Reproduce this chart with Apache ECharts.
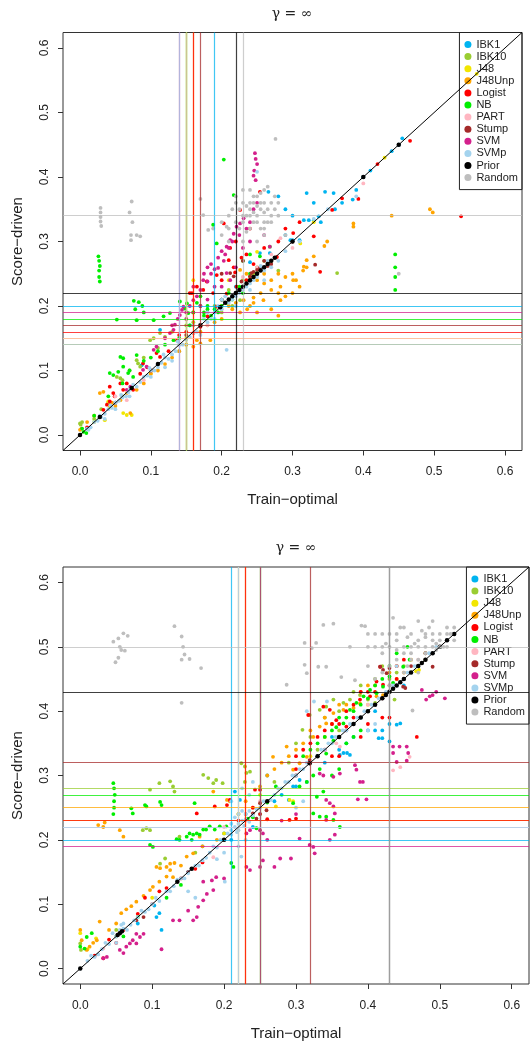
<!DOCTYPE html>
<html>
<head>
<meta charset="utf-8">
<script src="https://cdn.jsdelivr.net/npm/echarts@6/dist/echarts.min.js"></script>
<style>
  html, body { margin: 0; padding: 0; background: #fff; }
  #chart { width: 531px; height: 1042px; }
</style>
</head>
<body>
<div id="chart"></div>
<script>
// classifiers, in legend order
const names = ['IBK1', 'IBK10', 'J48', 'J48Unp', 'Logist', 'NB', 'PART', 'Stump', 'SVM', 'SVMp', 'Prior', 'Random'];
const tickValues = [0, 0.1, 0.2, 0.3, 0.4, 0.5, 0.6];
const diagLine = [[-0.024, -0.024], [0.624, 0.624]];

// per-classifier means (vertical = train-optimal, horizontal = score-driven)
const topMeanX = [0.194, 0.149, 0.151, 0.163, 0.157, 0.147, 0.154, 0.172, 0.1445, 0.138, 0.220, 0.228];
const topMeanY = [0.200, 0.142, 0.149, 0.145, 0.160, 0.183, 0.155, 0.169, 0.188, 0.138, 0.216, 0.335];
const botMeanX = [0.208, 0.249, 0.218, 0.228, 0.229, 0.252, 0.222, 0.318, 0.250, 0.224, 0.433, 0.434];
const botMeanY = [0.201, 0.285, 0.226, 0.250, 0.232, 0.272, 0.222, 0.315, 0.188, 0.224, 0.433, 0.500];

// ---- top panel points [train-optimal, score-driven]
const t_IBK1 = [[0.266,0.377],[0.32,0.375],[0.33,0.36],[0.346,0.377],[0.358,0.375],[0.297,0.302],[0.30,0.302],[0.31,0.302],[0.316,0.333],[0.323,0.333],[0.33,0.333],[0.337,0.339],[0.268,0.282],[0.254,0.282],[0.24,0.268],[0.113,0.163],[0.087,0.108],[0.29,0.31],[0.34,0.33],[0.37,0.36],[0.385,0.365],[0.39,0.38],[0.40,0.40],[0.41,0.41],[0.44,0.44],[0.45,0.45],[0.455,0.46],[0.30,0.34],[0.28,0.37],[0.29,0.35],[0.22,0.23],[0.18,0.19],[0.05,0.05],[0.01,0.01],[0.155,0.17],[0.20,0.21],[0.255,0.26],[0.36,0.35]];
const t_IBK10 = [[0.0,0.018],[0.001,0.016],[0.003,0.02],[0.052,0.09],[0.057,0.088],[0.08,0.116],[0.082,0.111],[0.085,0.106],[0.099,0.147],[0.104,0.15],[0.113,0.158],[0.12,0.152],[0.363,0.251],[0.226,0.209],[0.25,0.26],[0.2,0.19],[0.17,0.16],[0.14,0.13],[0.06,0.06],[0.03,0.04],[0.245,0.25],[0.26,0.27],[0.28,0.255],[0.215,0.2],[0.06,0.085],[0.07,0.1],[0.09,0.12],[0.11,0.135],[0.13,0.16],[0.15,0.17],[0.16,0.175],[0.19,0.2],[0.21,0.225],[0.23,0.24],[0.02,0.025],[0.04,0.05]];
const t_J48 = [[0.061,0.034],[0.066,0.031],[0.073,0.031],[0.04,0.052],[0.035,0.023],[0.042,0.044],[0.16,0.24],[0.25,0.284],[0.311,0.297],[0.02,0.02],[0.1,0.095],[0.2,0.2],[0.33,0.33],[0.43,0.43],[0.56,0.56],[0.21,0.24],[0.27,0.27],[0.15,0.15]];
const t_J48Unp = [[0.226,0.256],[0.235,0.25],[0.24,0.245],[0.25,0.24],[0.26,0.235],[0.27,0.225],[0.28,0.22],[0.29,0.215],[0.3,0.22],[0.31,0.23],[0.305,0.24],[0.29,0.245],[0.28,0.25],[0.27,0.24],[0.26,0.25],[0.3,0.25],[0.315,0.255],[0.32,0.26],[0.255,0.22],[0.245,0.205],[0.24,0.2],[0.25,0.19],[0.27,0.195],[0.28,0.185],[0.349,0.3],[0.345,0.293],[0.33,0.277],[0.32,0.271],[0.316,0.261],[0.301,0.24],[0.283,0.23],[0.283,0.209],[0.259,0.209],[0.245,0.213],[0.231,0.209],[0.236,0.195],[0.386,0.328],[0.386,0.323],[0.028,0.065],[0.033,0.067],[0.057,0.054],[0.066,0.065],[0.071,0.034],[0.0,0.008],[0.002,0.01],[0.16,0.137],[0.165,0.147],[0.17,0.142],[0.184,0.147],[0.226,0.19],[0.44,0.34],[0.498,0.345],[0.494,0.35],[0.1,0.095],[0.12,0.11],[0.14,0.13],[0.2,0.18],[0.21,0.2],[0.01,0.02],[0.02,0.03],[0.045,0.05],[0.05,0.045],[0.08,0.07],[0.09,0.08],[0.11,0.1],[0.13,0.12],[0.15,0.14],[0.17,0.16],[0.18,0.17],[0.19,0.175],[0.215,0.195],[0.22,0.205]];
const t_Logist = [[0.254,0.377],[0.226,0.349],[0.203,0.328],[0.212,0.29],[0.219,0.252],[0.042,0.075],[0.047,0.065],[0.033,0.039],[0.038,0.047],[0.057,0.08],[0.066,0.08],[0.089,0.111],[0.108,0.127],[0.113,0.121],[0.137,0.147],[0.16,0.158],[0.17,0.168],[0.18,0.184],[0.193,0.199],[0.207,0.219],[0.221,0.23],[0.235,0.24],[0.254,0.256],[0.278,0.276],[0.174,0.225],[0.188,0.22],[0.155,0.22],[0.33,0.308],[0.339,0.253],[0.356,0.349],[0.37,0.367],[0.301,0.313],[0.393,0.366],[0.466,0.456],[0.538,0.339],[0.42,0.42],[0.01,0.012],[0.075,0.07],[0.1,0.1],[0.14,0.155],[0.16,0.19],[0.2,0.24],[0.22,0.3],[0.24,0.32],[0.158,0.22],[0.165,0.23],[0.179,0.238],[0.193,0.248],[0.21,0.271],[0.217,0.26],[0.228,0.275],[0.235,0.28],[0.042,0.052],[0.049,0.06],[0.061,0.07],[0.085,0.095],[0.095,0.105],[0.125,0.13],[0.15,0.16],[0.245,0.265],[0.26,0.29],[0.28,0.3],[0.29,0.32],[0.31,0.33]];
const t_NB = [[0.026,0.277],[0.027,0.27],[0.028,0.262],[0.027,0.255],[0.027,0.245],[0.028,0.238],[0.203,0.427],[0.076,0.208],[0.083,0.206],[0.088,0.2],[0.078,0.195],[0.09,0.19],[0.052,0.179],[0.08,0.178],[0.104,0.178],[0.118,0.184],[0.127,0.189],[0.141,0.207],[0.148,0.196],[0.057,0.121],[0.061,0.119],[0.042,0.096],[0.047,0.093],[0.054,0.098],[0.061,0.106],[0.068,0.096],[0.075,0.09],[0.07,0.1],[0.08,0.124],[0.132,0.147],[0.151,0.204],[0.153,0.189],[0.17,0.215],[0.18,0.2],[0.19,0.195],[0.175,0.185],[0.2,0.21],[0.188,0.326],[0.193,0.297],[0.217,0.372],[0.254,0.277],[0.25,0.251],[0.268,0.292],[0.003,0.01],[0.005,0.005],[0.009,0.003],[0.445,0.28],[0.445,0.26],[0.445,0.245],[0.445,0.225],[0.16,0.17],[0.21,0.22],[0.23,0.22],[0.24,0.25],[0.12,0.14],[0.1,0.12],[0.17,0.2],[0.18,0.195],[0.175,0.19],[0.185,0.185],[0.195,0.19],[0.2,0.2],[0.207,0.205],[0.215,0.21],[0.225,0.23],[0.165,0.205],[0.16,0.19],[0.155,0.17],[0.14,0.15],[0.11,0.13],[0.09,0.115],[0.06,0.08],[0.04,0.06],[0.02,0.03],[0.23,0.27],[0.24,0.28]];
const t_PART = [[0.283,0.305],[0.23,0.245],[0.066,0.054],[0.14,0.14],[0.2,0.195],[0.25,0.26],[0.27,0.28],[0.3,0.29],[0.05,0.06],[0.09,0.085],[0.18,0.17],[0.4,0.39]];
const t_Stump = [[0.24,0.246],[0.242,0.251],[0.245,0.253],[0.25,0.256],[0.254,0.259],[0.212,0.251],[0.217,0.246],[0.332,0.264],[0.26,0.27],[0.265,0.262],[0.228,0.238],[0.2,0.21],[0.15,0.155],[0.1,0.1],[0.05,0.05],[0.27,0.265],[0.3,0.3],[0.2,0.25],[0.23,0.27]];
const t_SVM = [[0.247,0.437],[0.248,0.428],[0.25,0.42],[0.246,0.41],[0.245,0.402],[0.248,0.395],[0.174,0.24],[0.18,0.238],[0.185,0.25],[0.19,0.257],[0.195,0.259],[0.203,0.27],[0.205,0.28],[0.207,0.292],[0.212,0.302],[0.217,0.312],[0.221,0.323],[0.226,0.328],[0.231,0.336],[0.132,0.163],[0.127,0.158],[0.134,0.171],[0.141,0.186],[0.144,0.194],[0.146,0.199],[0.16,0.209],[0.165,0.215],[0.17,0.225],[0.207,0.251],[0.212,0.24],[0.104,0.132],[0.108,0.137],[0.094,0.106],[0.089,0.101],[0.066,0.07],[0.071,0.075],[0.155,0.2],[0.15,0.18],[0.12,0.15],[0.18,0.21],[0.19,0.23],[0.2,0.23],[0.24,0.3],[0.23,0.29],[0.22,0.26],[0.268,0.292],[0.26,0.31],[0.16,0.23],[0.175,0.25],[0.18,0.26],[0.185,0.265],[0.195,0.275],[0.2,0.285],[0.21,0.29],[0.215,0.3],[0.225,0.31],[0.235,0.32],[0.24,0.33],[0.245,0.35],[0.25,0.36],[0.13,0.17],[0.138,0.18],[0.15,0.19],[0.17,0.2]];
const t_SVMp = [[0.0,0.0],[0.01,0.01],[0.015,0.012],[0.02,0.02],[0.03,0.028],[0.035,0.033],[0.04,0.04],[0.045,0.042],[0.05,0.05],[0.055,0.053],[0.06,0.058],[0.065,0.06],[0.07,0.07],[0.08,0.075],[0.085,0.082],[0.09,0.09],[0.1,0.1],[0.105,0.1],[0.11,0.105],[0.12,0.12],[0.125,0.118],[0.13,0.125],[0.14,0.14],[0.145,0.14],[0.15,0.148],[0.16,0.158],[0.165,0.16],[0.17,0.17],[0.18,0.175],[0.185,0.18],[0.19,0.19],[0.2,0.195],[0.21,0.205],[0.215,0.21],[0.22,0.215],[0.23,0.225],[0.235,0.23],[0.24,0.235],[0.25,0.245],[0.26,0.255],[0.27,0.26],[0.28,0.27],[0.207,0.132],[0.25,0.408],[0.05,0.04],[0.07,0.06],[0.1,0.09],[0.035,0.025],[0.16,0.17],[0.18,0.19],[0.2,0.21],[0.22,0.2],[0.35,0.35],[0.39,0.37],[0.33,0.335],[0.31,0.3],[0.29,0.285],[0.012,0.008],[0.025,0.022],[0.028,0.03],[0.043,0.046],[0.058,0.062],[0.068,0.066],[0.075,0.078],[0.095,0.092],[0.098,0.104],[0.115,0.112],[0.118,0.125],[0.135,0.13],[0.138,0.145],[0.155,0.152],[0.175,0.18],[0.195,0.2],[0.205,0.215],[0.225,0.22],[0.245,0.24],[0.255,0.262],[0.265,0.27],[0.12,0.105],[0.13,0.115],[0.17,0.155],[0.19,0.18],[0.24,0.225],[0.26,0.24]];
const t_Prior = [[0.0,0.0],[0.028,0.028],[0.073,0.073],[0.11,0.11],[0.17,0.17],[0.198,0.198],[0.205,0.205],[0.21,0.21],[0.215,0.215],[0.22,0.22],[0.225,0.225],[0.23,0.23],[0.235,0.235],[0.24,0.24],[0.245,0.245],[0.25,0.25],[0.255,0.255],[0.26,0.26],[0.265,0.265],[0.27,0.27],[0.275,0.275],[0.3,0.3],[0.4,0.4],[0.45,0.45]];
const t_Random = [[0.029,0.352],[0.029,0.345],[0.029,0.338],[0.029,0.331],[0.03,0.324],[0.073,0.362],[0.07,0.345],[0.074,0.33],[0.072,0.31],[0.08,0.31],[0.085,0.308],[0.072,0.302],[0.276,0.459],[0.17,0.366],[0.174,0.341],[0.181,0.318],[0.188,0.32],[0.207,0.323],[0.22,0.37],[0.23,0.36],[0.24,0.35],[0.25,0.34],[0.26,0.36],[0.25,0.37],[0.24,0.38],[0.23,0.34],[0.22,0.33],[0.21,0.32],[0.2,0.31],[0.26,0.32],[0.27,0.34],[0.27,0.36],[0.265,0.385],[0.255,0.35],[0.245,0.33],[0.235,0.315],[0.25,0.30],[0.26,0.31],[0.23,0.38],[0.215,0.35],[0.24,0.36],[0.255,0.36],[0.275,0.35],[0.28,0.34],[0.45,0.25],[0.29,0.31],[0.245,0.345],[0.235,0.355],[0.25,0.355],[0.26,0.345],[0.265,0.33],[0.24,0.32],[0.225,0.35],[0.21,0.34],[0.22,0.36],[0.225,0.32],[0.23,0.33],[0.235,0.34],[0.24,0.34],[0.245,0.36],[0.25,0.33],[0.255,0.32],[0.26,0.33],[0.265,0.35],[0.27,0.33],[0.275,0.37],[0.28,0.36],[0.245,0.37],[0.255,0.375],[0.26,0.38],[0.21,0.3],[0.23,0.3],[0.2,0.33]];

// ---- bottom panel points
const b_IBK1 = [[0.44,0.379],[0.445,0.381],[0.415,0.358],[0.42,0.358],[0.43,0.353],[0.366,0.335],[0.371,0.335],[0.361,0.332],[0.375,0.332],[0.296,0.283],[0.3,0.283],[0.315,0.29],[0.305,0.293],[0.29,0.262],[0.11,0.086],[0.113,0.06],[0.106,0.08],[0.103,0.098],[0.215,0.275],[0.222,0.262],[0.2,0.21],[0.21,0.2],[0.25,0.24],[0.27,0.26],[0.33,0.33],[0.35,0.36],[0.39,0.39],[0.41,0.4],[0.45,0.44],[0.47,0.47],[0.5,0.5],[0.05,0.05],[0.08,0.07],[0.15,0.15],[0.26,0.3],[0.17,0.19],[0.37,0.35],[0.38,0.36],[0.4,0.37],[0.41,0.37],[0.42,0.37],[0.43,0.38],[0.34,0.32],[0.36,0.34],[0.28,0.27],[0.23,0.24],[0.24,0.22]];
const b_IBK10 = [[0.11,0.288],[0.125,0.291],[0.129,0.283],[0.131,0.275],[0.097,0.278],[0.171,0.301],[0.178,0.296],[0.185,0.288],[0.189,0.293],[0.198,0.288],[0.224,0.319],[0.229,0.314],[0.231,0.304],[0.236,0.306],[0.229,0.29],[0.087,0.215],[0.092,0.218],[0.097,0.215],[0.138,0.205],[0.118,0.171],[0.111,0.163],[0.0,0.039],[0.001,0.029],[0.309,0.371],[0.319,0.394],[0.333,0.402],[0.342,0.407],[0.352,0.418],[0.366,0.413],[0.375,0.418],[0.389,0.425],[0.4,0.418],[0.41,0.413],[0.437,0.418],[0.05,0.06],[0.16,0.18],[0.27,0.29],[0.29,0.32],[0.45,0.47],[0.48,0.49],[0.3,0.35],[0.32,0.36],[0.34,0.39],[0.36,0.4],[0.38,0.43],[0.39,0.44],[0.41,0.45],[0.42,0.47],[0.43,0.45],[0.44,0.46],[0.36,0.37],[0.33,0.34]];
const b_J48 = [[0.467,0.462],[0.471,0.464],[0.291,0.262],[0.296,0.26],[0.272,0.252],[0.0,0.055],[0.022,0.047],[0.01,0.03],[0.05,0.05],[0.1,0.11],[0.2,0.21],[0.25,0.27],[0.32,0.33],[0.4,0.41],[0.44,0.45],[0.22,0.24],[0.5,0.5]];
const b_J48Unp = [[0.0,0.06],[0.002,0.044],[0.009,0.029],[0.013,0.034],[0.018,0.04],[0.023,0.044],[0.027,0.073],[0.04,0.06],[0.05,0.07],[0.057,0.086],[0.064,0.092],[0.071,0.097],[0.078,0.104],[0.088,0.113],[0.097,0.122],[0.101,0.127],[0.11,0.135],[0.12,0.143],[0.125,0.153],[0.131,0.164],[0.148,0.174],[0.157,0.179],[0.106,0.158],[0.111,0.156],[0.12,0.158],[0.125,0.163],[0.129,0.142],[0.166,0.205],[0.185,0.275],[0.204,0.262],[0.208,0.26],[0.25,0.283],[0.268,0.329],[0.287,0.345],[0.296,0.309],[0.305,0.319],[0.315,0.329],[0.324,0.36],[0.333,0.376],[0.342,0.381],[0.352,0.397],[0.366,0.402],[0.38,0.405],[0.389,0.412],[0.412,0.423],[0.421,0.425],[0.43,0.43],[0.025,0.223],[0.032,0.22],[0.034,0.227],[0.055,0.215],[0.06,0.205],[0.19,0.2],[0.22,0.24],[0.23,0.26],[0.24,0.25],[0.45,0.46],[0.48,0.48],[0.14,0.16],[0.17,0.19],[0.26,0.3],[0.27,0.31],[0.28,0.32],[0.29,0.33],[0.3,0.34],[0.31,0.35],[0.32,0.37],[0.34,0.39],[0.36,0.41],[0.37,0.41],[0.39,0.43],[0.4,0.44],[0.41,0.44],[0.43,0.46],[0.44,0.47],[0.46,0.48],[0.34,0.36],[0.35,0.38]];
const b_Logist = [[0.02,0.02],[0.032,0.016],[0.04,0.045],[0.06,0.06],[0.08,0.085],[0.1,0.1],[0.12,0.125],[0.14,0.14],[0.16,0.155],[0.17,0.165],[0.22,0.23],[0.24,0.25],[0.25,0.24],[0.3,0.31],[0.34,0.34],[0.38,0.39],[0.42,0.42],[0.44,0.45],[0.47,0.47],[0.162,0.241],[0.187,0.252],[0.204,0.254],[0.208,0.262],[0.243,0.278],[0.25,0.278],[0.317,0.394],[0.338,0.407],[0.347,0.402],[0.356,0.386],[0.37,0.376],[0.389,0.418],[0.403,0.423],[0.412,0.446],[0.421,0.441],[0.417,0.469],[0.468,0.36],[0.291,0.231],[0.3,0.233],[0.26,0.232],[0.4,0.38],[0.42,0.39],[0.36,0.33],[0.09,0.11],[0.11,0.12],[0.05,0.04],[0.3,0.33],[0.31,0.34],[0.32,0.35],[0.33,0.36],[0.34,0.37],[0.35,0.38],[0.36,0.38],[0.37,0.4],[0.38,0.41],[0.39,0.43],[0.4,0.43],[0.41,0.43],[0.43,0.44],[0.44,0.47],[0.45,0.48],[0.43,0.39],[0.39,0.36],[0.35,0.33]];
const b_NB = [[0.046,0.288],[0.047,0.28],[0.048,0.27],[0.047,0.26],[0.047,0.25],[0.046,0.24],[0.071,0.249],[0.073,0.241],[0.09,0.254],[0.092,0.252],[0.111,0.259],[0.113,0.254],[0.097,0.192],[0.101,0.189],[0.134,0.201],[0.138,0.2],[0.148,0.205],[0.152,0.21],[0.155,0.2],[0.157,0.208],[0.162,0.21],[0.166,0.208],[0.171,0.216],[0.175,0.216],[0.18,0.221],[0.187,0.216],[0.194,0.221],[0.203,0.221],[0.159,0.257],[0.21,0.164],[0.213,0.158],[0.0,0.034],[0.006,0.031],[0.009,0.049],[0.016,0.055],[0.233,0.233],[0.24,0.235],[0.245,0.218],[0.26,0.258],[0.272,0.283],[0.296,0.257],[0.305,0.283],[0.315,0.29],[0.324,0.3],[0.333,0.31],[0.342,0.334],[0.352,0.354],[0.356,0.375],[0.366,0.381],[0.375,0.402],[0.384,0.413],[0.394,0.423],[0.403,0.433],[0.412,0.428],[0.421,0.438],[0.43,0.454],[0.435,0.444],[0.449,0.469],[0.458,0.48],[0.324,0.241],[0.333,0.236],[0.342,0.236],[0.352,0.231],[0.361,0.22],[0.329,0.267],[0.338,0.275],[0.12,0.11],[0.14,0.13],[0.06,0.05],[0.08,0.08],[0.31,0.33],[0.32,0.34],[0.33,0.35],[0.34,0.36],[0.35,0.37],[0.36,0.39],[0.37,0.39],[0.38,0.4],[0.39,0.41],[0.4,0.42],[0.41,0.44],[0.42,0.45],[0.37,0.35],[0.38,0.36],[0.39,0.37],[0.35,0.3],[0.36,0.31],[0.4,0.4],[0.43,0.47],[0.44,0.49],[0.455,0.5]];
const b_PART = [[0.435,0.308],[0.445,0.313],[0.458,0.329],[0.356,0.35],[0.361,0.345],[0.032,0.031],[0.185,0.173],[0.23,0.23],[0.25,0.26],[0.3,0.3],[0.4,0.41],[0.47,0.48],[0.1,0.1],[0.2,0.22]];
const b_Stump = [[0.417,0.469],[0.421,0.464],[0.426,0.459],[0.43,0.467],[0.449,0.438],[0.452,0.436],[0.49,0.469],[0.25,0.257],[0.259,0.246],[0.24,0.241],[0.245,0.233],[0.319,0.324],[0.078,0.075],[0.088,0.08],[0.37,0.37],[0.3,0.3],[0.2,0.2],[0.46,0.47],[0.48,0.49],[0.15,0.15]];
const b_SVM = [[0.032,0.016],[0.037,0.018],[0.055,0.029],[0.06,0.024],[0.064,0.034],[0.069,0.039],[0.073,0.044],[0.078,0.039],[0.083,0.049],[0.088,0.054],[0.078,0.054],[0.129,0.075],[0.138,0.075],[0.157,0.075],[0.162,0.08],[0.164,0.096],[0.171,0.106],[0.176,0.116],[0.185,0.122],[0.183,0.137],[0.171,0.135],[0.189,0.142],[0.231,0.158],[0.236,0.153],[0.25,0.158],[0.254,0.168],[0.231,0.21],[0.236,0.215],[0.25,0.215],[0.254,0.21],[0.27,0.158],[0.278,0.171],[0.293,0.171],[0.305,0.202],[0.319,0.192],[0.324,0.189],[0.326,0.179],[0.342,0.262],[0.347,0.257],[0.352,0.252],[0.342,0.231],[0.354,0.241],[0.333,0.303],[0.338,0.3],[0.352,0.298],[0.361,0.303],[0.382,0.316],[0.384,0.309],[0.389,0.29],[0.393,0.29],[0.386,0.263],[0.398,0.263],[0.347,0.2],[0.354,0.208],[0.435,0.345],[0.444,0.345],[0.454,0.345],[0.456,0.335],[0.435,0.335],[0.44,0.321],[0.454,0.323],[0.481,0.418],[0.486,0.423],[0.49,0.425],[0.495,0.43],[0.507,0.42],[0.475,0.433],[0.113,0.03],[0.2,0.14],[0.15,0.09],[0.28,0.23],[0.3,0.24],[0.26,0.2]];
const b_SVMp = [[0.0,0.0],[0.01,0.012],[0.02,0.018],[0.03,0.03],[0.04,0.038],[0.05,0.05],[0.055,0.06],[0.06,0.062],[0.07,0.068],[0.08,0.08],[0.09,0.088],[0.1,0.1],[0.11,0.105],[0.12,0.12],[0.13,0.128],[0.14,0.14],[0.15,0.148],[0.16,0.16],[0.17,0.168],[0.18,0.18],[0.19,0.188],[0.2,0.2],[0.21,0.208],[0.215,0.22],[0.22,0.225],[0.225,0.23],[0.23,0.232],[0.235,0.228],[0.24,0.238],[0.22,0.215],[0.228,0.222],[0.25,0.25],[0.26,0.26],[0.27,0.27],[0.28,0.28],[0.29,0.29],[0.3,0.3],[0.31,0.31],[0.32,0.32],[0.33,0.33],[0.34,0.34],[0.35,0.35],[0.36,0.36],[0.37,0.37],[0.38,0.38],[0.39,0.39],[0.4,0.4],[0.41,0.41],[0.42,0.42],[0.43,0.43],[0.44,0.44],[0.45,0.45],[0.46,0.46],[0.47,0.47],[0.48,0.48],[0.49,0.49],[0.5,0.5],[0.51,0.51],[0.52,0.52],[0.21,0.26],[0.225,0.28],[0.235,0.27],[0.24,0.29],[0.2,0.18],[0.19,0.17],[0.22,0.19],[0.23,0.2],[0.05,0.04],[0.06,0.07],[0.045,0.055],[0.057,0.068],[0.3,0.25],[0.31,0.26],[0.4,0.37],[0.41,0.38],[0.44,0.47],[0.15,0.12],[0.16,0.11],[0.224,0.174],[0.201,0.135],[0.315,0.4],[0.325,0.415],[0.343,0.415],[0.015,0.02],[0.025,0.022],[0.035,0.04],[0.065,0.06],[0.075,0.075],[0.085,0.09],[0.095,0.092],[0.105,0.11],[0.125,0.12],[0.135,0.138],[0.145,0.14],[0.165,0.16],[0.175,0.172],[0.185,0.19],[0.195,0.2],[0.205,0.21],[0.245,0.248],[0.255,0.26],[0.265,0.262],[0.275,0.28],[0.285,0.29],[0.295,0.3],[0.305,0.31],[0.315,0.32],[0.335,0.34],[0.345,0.35],[0.355,0.36],[0.365,0.37],[0.375,0.38],[0.385,0.39],[0.395,0.4],[0.405,0.41],[0.415,0.42],[0.425,0.43],[0.435,0.44],[0.455,0.46],[0.465,0.47],[0.485,0.49],[0.495,0.5],[0.21,0.225],[0.215,0.235],[0.22,0.24],[0.225,0.245],[0.23,0.24],[0.235,0.245],[0.21,0.215],[0.218,0.212]];
const b_Prior = [[0.0,0.0],[0.052,0.052],[0.055,0.055],[0.058,0.058],[0.135,0.135],[0.155,0.155],[0.2,0.2],[0.26,0.26],[0.319,0.319],[0.33,0.33],[0.36,0.36],[0.38,0.38],[0.39,0.39],[0.40,0.40],[0.41,0.41],[0.42,0.42],[0.425,0.425],[0.43,0.43],[0.435,0.435],[0.44,0.44],[0.445,0.445],[0.45,0.45],[0.46,0.46],[0.47,0.47],[0.475,0.475],[0.48,0.48],[0.49,0.49],[0.5,0.5],[0.51,0.51],[0.52,0.52]];
const b_Random = [[0.046,0.508],[0.053,0.513],[0.06,0.521],[0.066,0.517],[0.055,0.5],[0.057,0.495],[0.062,0.494],[0.049,0.476],[0.053,0.483],[0.131,0.532],[0.141,0.516],[0.143,0.5],[0.145,0.488],[0.141,0.48],[0.152,0.481],[0.168,0.467],[0.141,0.413],[0.287,0.441],[0.312,0.506],[0.322,0.498],[0.328,0.506],[0.338,0.534],[0.352,0.536],[0.331,0.469],[0.312,0.472],[0.315,0.459],[0.342,0.469],[0.363,0.453],[0.382,0.448],[0.375,0.5],[0.391,0.533],[0.396,0.532],[0.40,0.52],[0.41,0.5],[0.42,0.49],[0.43,0.5],[0.44,0.51],[0.45,0.5],[0.46,0.52],[0.47,0.51],[0.48,0.5],[0.49,0.52],[0.5,0.51],[0.51,0.53],[0.45,0.53],[0.47,0.54],[0.49,0.54],[0.43,0.47],[0.44,0.48],[0.46,0.49],[0.48,0.49],[0.42,0.46],[0.41,0.45],[0.5,0.5],[0.47,0.48],[0.445,0.53],[0.42,0.52],[0.435,0.545],[0.485,0.53],[0.505,0.5],[0.455,0.515],[0.475,0.525],[0.465,0.505],[0.495,0.505],[0.455,0.47],[0.4,0.47],[0.43,0.44],[0.462,0.401],[0.515,0.52],[0.52,0.51],[0.495,0.495],[0.48,0.515],[0.46,0.5],[0.44,0.495],[0.425,0.505],[0.44,0.52],[0.45,0.49],[0.46,0.48],[0.47,0.5],[0.48,0.52],[0.49,0.51],[0.5,0.52],[0.51,0.5],[0.43,0.52],[0.42,0.5],[0.41,0.52],[0.4,0.5],[0.45,0.46],[0.47,0.46],[0.49,0.5],[0.51,0.52],[0.52,0.53]];

const topPoints = [t_IBK1, t_IBK10, t_J48, t_J48Unp, t_Logist, t_NB, t_PART, t_Stump, t_SVM, t_SVMp, t_Prior, t_Random];
const botPoints = [b_IBK1, b_IBK10, b_J48, b_J48Unp, b_Logist, b_NB, b_PART, b_Stump, b_SVM, b_SVMp, b_Prior, b_Random];

// styling
const colors = ['#00B4F0', '#9ACD32', '#F2E600', '#FFA500', '#FF0000', '#00EE00', '#FFB6C1', '#A52A2A', '#D4208C', '#A4D3EE', '#000000', '#BEBEBE'];
const font = '"Liberation Sans", Arial, sans-serif';

const chart = echarts.init(document.getElementById('chart'));

function xAxisFor(gi) {
  return {
    type: 'value', gridIndex: gi, min: -0.024, max: 0.624,
    splitLine: { show: false },
    axisLine: { show: false, onZero: false },
    axisTick: { show: true, customValues: tickValues, length: 5, lineStyle: { color: '#333' } },
    axisLabel: { customValues: tickValues, margin: 15.5, fontSize: 12, color: '#222', fontFamily: font,
      formatter: v => v.toFixed(1) },
    name: 'Train\u2212optimal', nameLocation: 'middle', nameGap: 42,
    nameTextStyle: { fontSize: 15, color: '#222', fontFamily: font }
  };
}
function yAxisFor(gi) {
  return {
    type: 'value', gridIndex: gi, min: -0.024, max: 0.624,
    splitLine: { show: false },
    axisLine: { show: false, onZero: false },
    axisTick: { show: true, customValues: tickValues, length: 5, lineStyle: { color: '#333' } },
    axisLabel: { customValues: tickValues, margin: 12, rotate: 90, fontSize: 12, color: '#222', fontFamily: font,
      formatter: v => v.toFixed(1) },
    name: 'Score\u2212driven', nameLocation: 'middle', nameGap: 38, nameRotate: 90,
    nameTextStyle: { fontSize: 15, color: '#222', fontFamily: font }
  };
}

const series = [];
function addPanel(gi, points, meanX, meanY) {
  names.forEach((n, i) => {
    series.push({
      name: n, type: 'scatter', xAxisIndex: gi, yAxisIndex: gi,
      data: points[i], symbol: 'circle', symbolSize: n === 'Prior' ? 4.5 : 3.8,
      itemStyle: { color: colors[i], opacity: 1 },
      silent: true, animation: false, z: 2,
      markLine: {
        silent: true, animation: false, symbol: ['none', 'none'],
        label: { show: false },
        lineStyle: { color: colors[i], width: 1.2, type: 'solid', opacity: 0.75 },
        data: [{ xAxis: meanX[i] }, { yAxis: meanY[i] }]
      }
    });
  });
  series.push({
    type: 'line', xAxisIndex: gi, yAxisIndex: gi, data: diagLine,
    showSymbol: false, silent: true, animation: false, z: 6,
    lineStyle: { color: '#000', width: 1 }
  });
}
addPanel(0, topPoints, topMeanX, topMeanY);
addPanel(1, botPoints, botMeanX, botMeanY);

function legendFor(top, right) {
  return {
    orient: 'vertical', top: top, right: right, data: names,
    icon: 'circle', itemWidth: 7, itemHeight: 7, itemGap: 0.1,
    padding: [6, 4, 6, 5], borderColor: '#222', borderWidth: 1, borderRadius: 0,
    selectedMode: false,
    textStyle: { fontSize: 11, lineHeight: 12, color: '#222', fontFamily: font }
  };
}

chart.setOption({
  backgroundColor: '#fff',
  animation: false,
  grid: [
    { left: 63, top: 32.5, width: 459, height: 418, show: true, borderColor: '#333', borderWidth: 1, backgroundColor: 'transparent' },
    { left: 63, top: 567, width: 466, height: 417, show: true, borderColor: '#333', borderWidth: 1, backgroundColor: 'transparent' }
  ],
  xAxis: [xAxisFor(0), xAxisFor(1)],
  yAxis: [yAxisFor(0), yAxisFor(1)],
  legend: [legendFor(32.5, 9), legendFor(567, 2)],
  graphic: [
    { type: 'text', x: 292, y: 14, style: { text: '\u03B3 = \u221E', font: '14px "DejaVu Serif", serif', fill: '#222', textAlign: 'center', textVerticalAlign: 'middle' } },
    { type: 'text', x: 296, y: 548, style: { text: '\u03B3 = \u221E', font: '14px "DejaVu Serif", serif', fill: '#222', textAlign: 'center', textVerticalAlign: 'middle' } }
  ],
  series: series
});
</script>
</body>
</html>
